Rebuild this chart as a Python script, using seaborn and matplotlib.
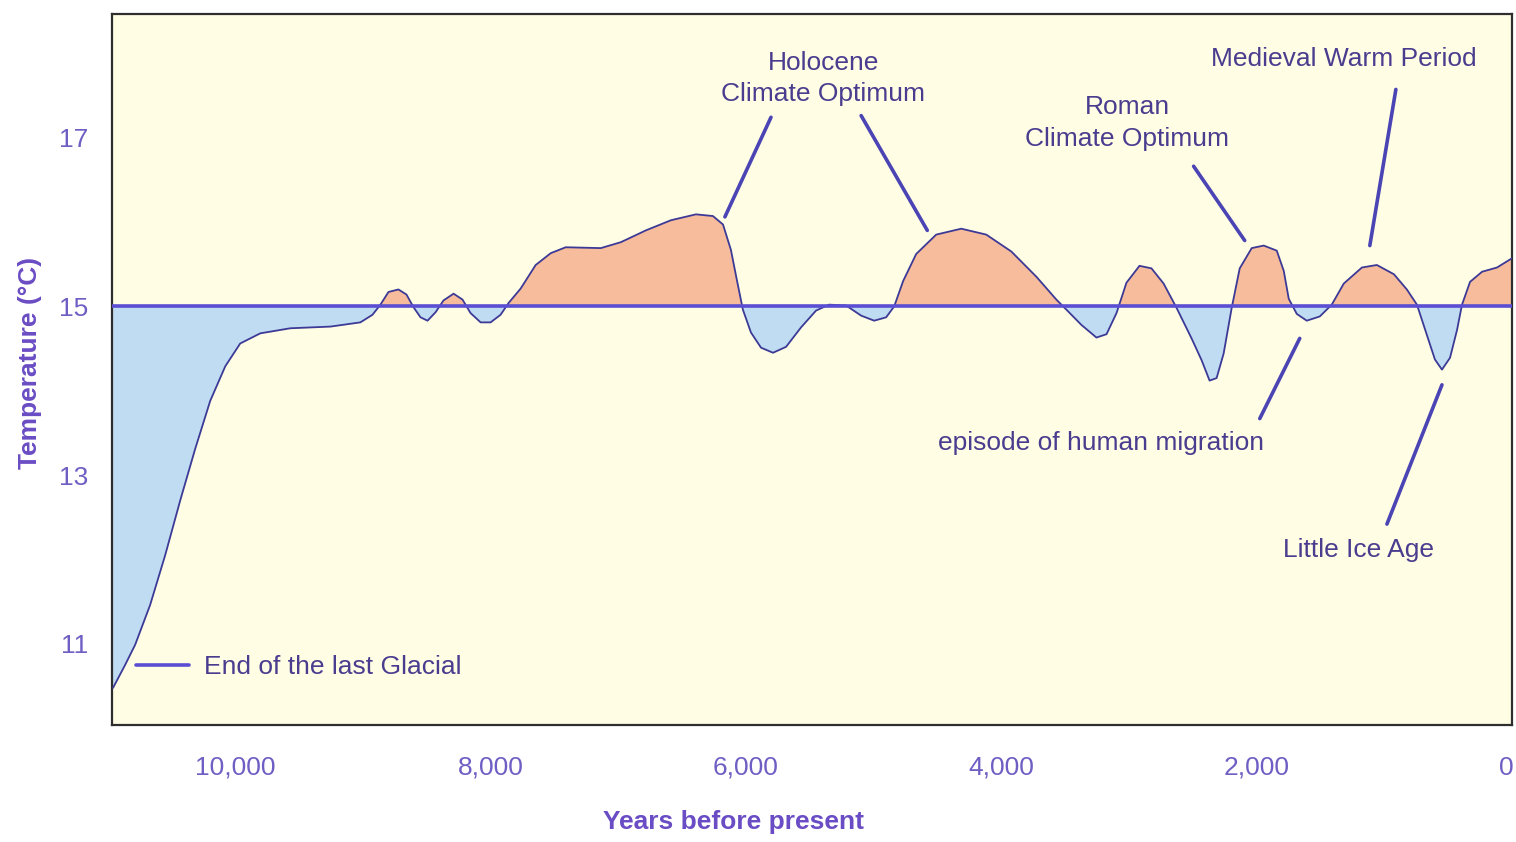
import matplotlib
matplotlib.use("Agg")
import matplotlib.pyplot as plt
import matplotlib.transforms as mtransforms
import seaborn as sns
import numpy as np
import pandas as pd

# Temperature over the Holocene
years = [10957, 10863, 10784, 10667, 10549, 10431, 10314, 10196, 10078, 9961,
         9804, 9569, 9255, 9020, 8925, 8863, 8800, 8722, 8659, 8604,
         8549, 8494, 8431, 8369, 8290, 8220, 8157, 8078, 8000, 7922,
         7859, 7765, 7647, 7529, 7412, 7137, 6980, 6784, 6588, 6392,
         6259, 6180, 6118, 6071, 6024, 5961, 5882, 5788, 5686, 5569,
         5451, 5349, 5216, 5098, 4996, 4902, 4839, 4769, 4667, 4510,
         4314, 4118, 3922, 3725, 3569, 3490, 3373, 3255, 3176, 3098,
         3020, 2918, 2824, 2729, 2627, 2510, 2431, 2369, 2314, 2259,
         2196, 2133, 2039, 1945, 1843, 1788, 1749, 1686, 1608, 1506,
         1412, 1318, 1176, 1059, 925, 824, 745, 667, 604, 549,
         486, 431, 392, 329, 235, 118, 0]
temps = [10.48, 10.75, 10.99, 11.46, 12.05, 12.70, 13.31, 13.88, 14.29, 14.56,
         14.68, 14.74, 14.76, 14.81, 14.90, 15.02, 15.17, 15.20, 15.14, 14.99,
         14.87, 14.83, 14.93, 15.07, 15.15, 15.08, 14.92, 14.81, 14.81, 14.90,
         15.04, 15.21, 15.49, 15.63, 15.70, 15.69, 15.76, 15.90, 16.02, 16.09,
         16.07, 15.97, 15.67, 15.31, 14.96, 14.69, 14.51, 14.45, 14.52, 14.75,
         14.95, 15.02, 15.01, 14.89, 14.83, 14.87, 15.00, 15.30, 15.62, 15.85,
         15.92, 15.85, 15.65, 15.35, 15.08, 14.96, 14.78, 14.63, 14.67, 14.92,
         15.28, 15.48, 15.45, 15.27, 14.98, 14.62, 14.36, 14.12, 14.15, 14.44,
         14.98, 15.45, 15.69, 15.72, 15.66, 15.42, 15.09, 14.91, 14.83, 14.88,
         15.02, 15.27, 15.46, 15.49, 15.38, 15.20, 15.02, 14.66, 14.37, 14.25,
         14.39, 14.72, 15.02, 15.29, 15.41, 15.46, 15.57]
baseline = 15.0

x_ticks = [10000, 8000, 6000, 4000, 2000, 0]
x_tick_labels = ["10,000", "8,000", "6,000", "4,000", "2,000", "0"]
y_ticks = [11, 13, 15, 17]

df = pd.DataFrame({"years": years, "temp": temps})

sns.set_theme(style="white")
plt.rcParams["font.family"] = ["Liberation Sans", "DejaVu Sans"]

fig, ax = plt.subplots(figsize=(15.16, 8.42), dpi=100)
fig.subplots_adjust(left=0.0739, right=0.9974, bottom=0.139, top=0.983)
ax.set_facecolor("#fffde4")

# warm / cold fills relative to 15 C
ax.fill_between(df["years"], df["temp"], baseline, where=df["temp"] >= baseline,
                interpolate=True, color="#f6bc9c", linewidth=0, zorder=1)
ax.fill_between(df["years"], df["temp"], baseline, where=df["temp"] <= baseline,
                interpolate=True, color="#bfdcf2", linewidth=0, zorder=1)

sns.lineplot(data=df, x="years", y="temp", ax=ax, color="#3c3a96",
             linewidth=1.3, zorder=3, solid_joinstyle="round")
base_line = ax.axhline(baseline, color="#5b4ed2", linewidth=2.6, zorder=4)

ax.set_xlim(10965, 0)
ax.set_ylim(10.04, 18.46)
ax.set_xticks(x_ticks)
ax.set_xticklabels(x_tick_labels)
ax.set_yticks(y_ticks)

tick_col = "#6f5fc4"
ax.tick_params(axis="x", length=0, pad=22, labelsize=19, labelcolor=tick_col)
ax.tick_params(axis="y", length=0, pad=17, labelsize=19, labelcolor=tick_col)

# the last "0" sits on the figure edge; nudge it just inside
last = ax.get_xticklabels()[-1]
last.set_transform(last.get_transform() +
                   mtransforms.ScaledTranslation(-6 / 100, 0, fig.dpi_scale_trans))

ax.set_xlabel("Years before present", fontsize=19, fontweight="bold", color="#6a4cc4")
ax.set_ylabel("Temperature (°C)", fontsize=19, fontweight="bold", color="#6a4cc4")
ax.xaxis.set_label_coords(0.4436, -0.12)
ax.yaxis.set_label_coords(-0.05, 0.51)

for s in ax.spines.values():
    s.set_color("#2e2e2e")
    s.set_linewidth(1.6)

txt_col = "#4a3d8f"
ptr_col = "#4a44b4"
labels = [
    ("Holocene\nClimate Optimum", 5396, 17.70),
    ("Roman\nClimate Optimum", 3012, 17.17),
    ("Medieval Warm Period", 1318, 17.93),
    ("episode of human migration", 3216, 13.38),
    ("Little Ice Age", 1200, 12.11),
]
for t, x, y in labels:
    ax.text(x, y, t, ha="center", va="center", fontsize=19, color=txt_col,
            linespacing=1.4, zorder=5)

pointers = [
    ((5804, 17.24), (6165, 16.06)),
    ((5098, 17.26), (4580, 15.90)),
    ((2494, 16.66), (2094, 15.78)),
    ((910, 17.57), (1114, 15.72)),
    ((1663, 14.62), (1976, 13.67)),
    ((549, 14.07), (980, 12.42)),
]
for start, end in pointers:
    ax.annotate("", xy=end, xytext=start,
                arrowprops=dict(arrowstyle="-", color=ptr_col, lw=2.6,
                                shrinkA=0, shrinkB=0), zorder=5)

leg = ax.legend([base_line], ["End of the last Glacial"], loc="lower left",
                bbox_to_anchor=(0.017, 0.064), frameon=False, fontsize=19,
                handlelength=2.0, handletextpad=0.6, borderpad=0, borderaxespad=0)
for t in leg.get_texts():
    t.set_color(txt_col)

fig.savefig("out.png", dpi=100)
